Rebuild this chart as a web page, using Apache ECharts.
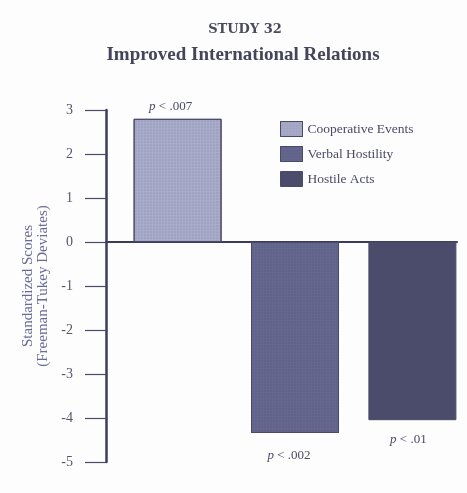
<!DOCTYPE html>
<html>
<head>
<meta charset="utf-8">
<script src="https://cdn.jsdelivr.net/npm/echarts@6/dist/echarts.min.js"></script>
<style>
html,body{margin:0;padding:0;background:#fdfdfd;}
#chart{width:467px;height:493px;}
</style>
</head>
<body>
<div id="chart"></div>
<script>
var categories = ['Cooperative Events', 'Verbal Hostility', 'Hostile Acts'];
var values = [2.8, -4.34, -4.05];
var pLabels = ['.007', '.002', '.01'];
var yTicks = [-5, -4, -3, -2, -1, 0, 1, 2, 3];

var colors = ['#a9abca', '#66678f', '#4b4b6b'];
var serif = '"Liberation Serif", "DejaVu Serif", serif';

var chart = echarts.init(document.getElementById('chart'));

var series = categories.map(function (name, i) {
  var item = {
    type: 'bar',
    name: name,
    barWidth: 88,
    barGap: '-100%',
    data: [[i + 1, values[i]]],
    itemStyle: {
      color: colors[i],
      borderColor: '#4a4a68',
      borderWidth: 1
    },
    label: {
      show: true,
      position: values[i] >= 0 ? 'top' : 'bottom',
      distance: values[i] >= 0 ? 6 : (i === 1 ? 16 : 13),
      offset: values[i] >= 0 ? [-7, 0] : (i === 1 ? [-6, 0] : [-4, 0]),
      formatter: '{i|p} < ' + pLabels[i],
      fontFamily: serif,
      fontSize: 13,
      color: '#4a4a68',
      rich: { i: { fontStyle: 'italic', fontFamily: serif, fontSize: 13, color: '#4a4a68' } }
    }
  };
  if (i < 2) {
    item.itemStyle.decal = {
      symbol: 'circle',
      symbolSize: 0.6,
      dashArrayX: [2, 1],
      dashArrayY: [2, 1],
      color: i === 0 ? 'rgba(70,70,110,0.35)' : 'rgba(40,40,70,0.25)'
    };
  }
  return item;
});

var option = {
  backgroundColor: '#fdfdfd',
  animation: false,
  title: [
    {
      text: 'STUDY 32',
      left: 240, top: 18, textAlign: 'center',
      textStyle: { fontFamily: '"DejaVu Serif", serif', fontSize: 13, fontWeight: 'bold', color: '#4a4a5c' }
    },
    {
      text: 'Improved International Relations',
      left: 238, top: 41, textAlign: 'center',
      textStyle: { fontFamily: serif, fontSize: 19, fontWeight: 'bold', color: '#45455a' }
    }
  ],
  legend: {
    orient: 'vertical',
    left: 275, top: 116,
    itemWidth: 22, itemHeight: 15, itemGap: 9,
    icon: 'rect',
    data: categories,
    textStyle: { fontFamily: serif, fontSize: 13.5, color: '#4a4a68' },
    itemStyle: { borderColor: '#4a4a68', borderWidth: 1 }
  },
  grid: { left: 106, right: 10, top: 110, bottom: 31 },
  xAxis: {
    type: 'value',
    min: 0.39, max: 3.38,
    axisLine: { show: true, onZero: true, lineStyle: { color: '#3c3c5c', width: 2 } },
    axisTick: { show: false },
    axisLabel: { show: false },
    splitLine: { show: false }
  },
  yAxis: {
    type: 'value',
    min: yTicks[0], max: yTicks[yTicks.length - 1], interval: 1,
    name: 'Standardized Scores\n(Freeman-Tukey Deviates)',
    nameLocation: 'middle',
    nameGap: 53,
    nameRotate: 90,
    nameTextStyle: { fontFamily: serif, fontSize: 15, color: '#666c94', lineHeight: 15 },
    axisLine: { show: true, onZero: false, lineStyle: { color: '#3c3c5c', width: 2.5 } },
    axisTick: { show: true, length: 21, lineStyle: { color: '#4a4a6a', width: 1.2 } },
    axisLabel: { fontFamily: serif, fontSize: 14, color: '#55556a', margin: 33 },
    splitLine: { show: false }
  },
  series: series
};
chart.setOption(option);
</script>
</body>
</html>
